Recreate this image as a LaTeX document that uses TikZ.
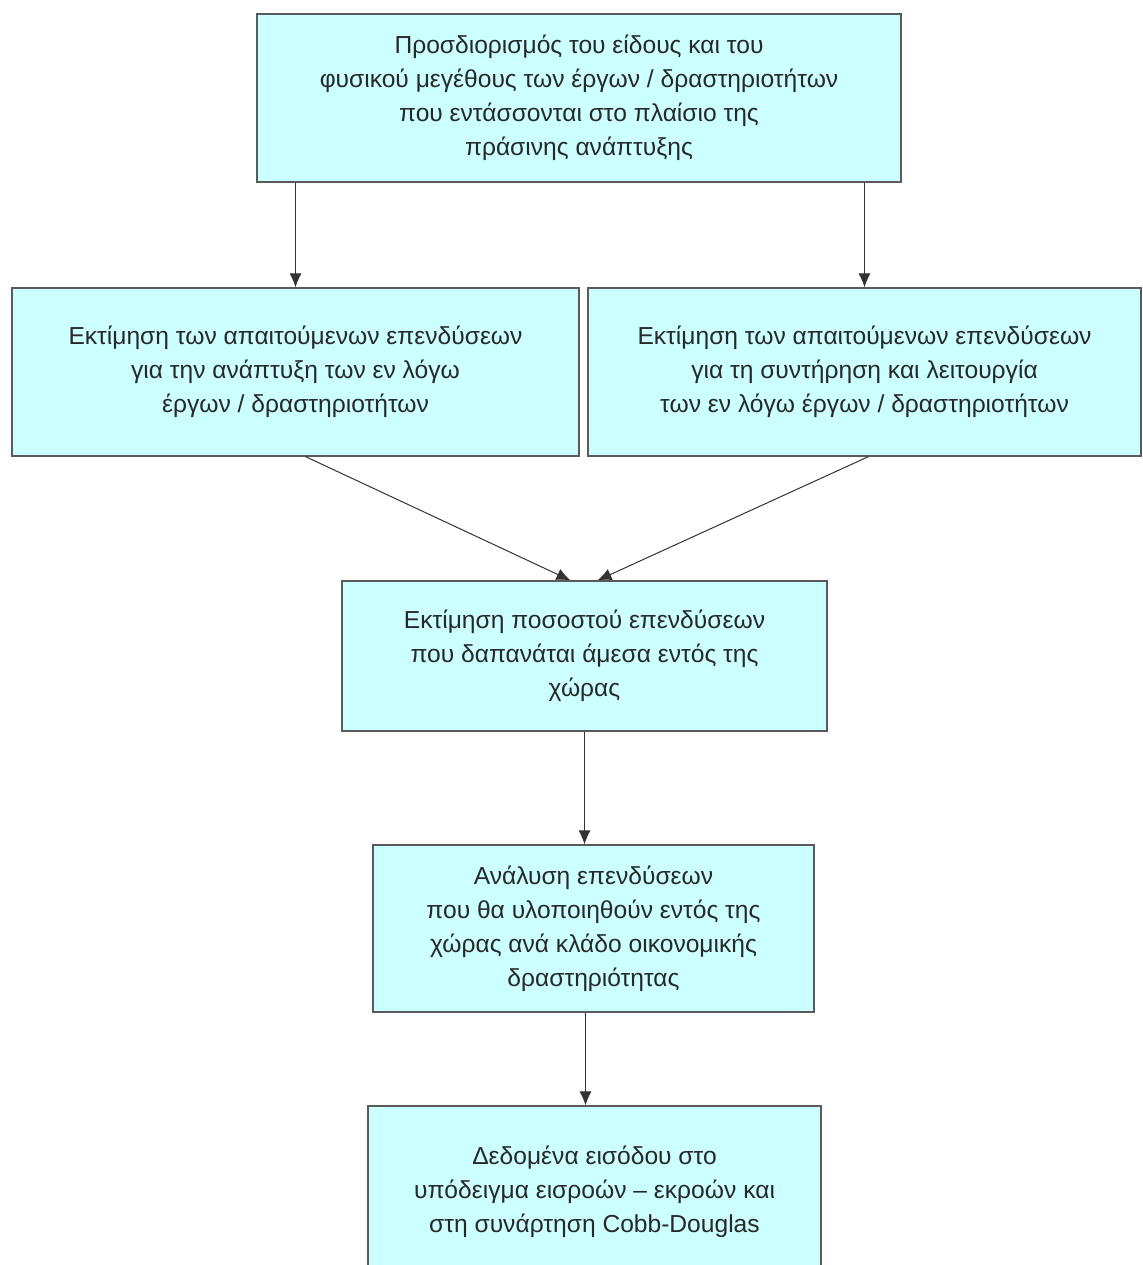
\documentclass[tikz,border=0pt]{standalone}
\usepackage{fontspec}
\setmainfont{Liberation Sans}
\usepackage{tikz}
\usetikzlibrary{calc,arrows.meta}

\definecolor{boxfill}{RGB}{204,255,255}
\definecolor{boxline}{RGB}{90,90,90}
\definecolor{inktext}{RGB}{40,40,40}

\tikzset{
    stage/.style={draw=boxline, line width=1.2pt, fill=boxfill, align=center,
        inner sep=0pt, text=inktext, font=\fontsize{24.6}{34}\selectfont},
    flow/.style={-{Latex[length=14pt,width=12pt]}, line width=1pt, color=black!80}
}

\begin{document}
\begin{tikzpicture}[x=1pt,y=1pt]
        \useasboundingbox (0,0) rectangle (1142,-1265);
        \node[stage, minimum width=644, minimum height=168] (ergo) at (579,-98)
            {Προσδιορισμός του είδους και του\\
             φυσικού μεγέθους των έργων / δραστηριοτήτων\\
             που εντάσσονται στο πλαίσιο της\\
             πράσινης ανάπτυξης};
        \node[stage, minimum width=567, minimum height=168] (anapt) at (295.5,-372)
            {Εκτίμηση των απαιτούμενων επενδύσεων\\
             για την ανάπτυξη των εν λόγω\\
             έργων / δραστηριοτήτων};
        \node[stage, minimum width=553, minimum height=168] (leit) at (864.5,-372)
            {Εκτίμηση των απαιτούμενων επενδύσεων\\
             για τη συντήρηση και λειτουργία\\
             των εν λόγω έργων / δραστηριοτήτων};
        \node[stage, minimum width=485, minimum height=150] (pososto) at (584.5,-656)
            {Εκτίμηση ποσοστού επενδύσεων\\
             που δαπανάται άμεσα εντός της\\
             χώρας};
        \node[stage, minimum width=441, minimum height=167] (klados) at (593.5,-928.5)
            {Ανάλυση επενδύσεων\\
             που θα υλοποιηθούν εντός της\\
             χώρας ανά κλάδο οικονομικής\\
             δραστηριότητας};
        \node[stage, minimum width=453, minimum height=172] (input) at (594.5,-1192)
            {Δεδομένα εισόδου στο\\
             υπόδειγμα εισροών -- εκροών και\\
             στη συνάρτηση Cobb-Douglas};

        \draw[flow] (ergo.south -| anapt.north) -- (anapt.north);
        \draw[flow] (ergo.south -| leit.north) -- (leit.north);
        \draw[flow] ($(anapt.south)+(10,0)$) -- ($(pososto.north)+(-14,0)$);
        \draw[flow] ($(leit.south)+(4,0)$) -- ($(pososto.north)+(13,0)$);
        \draw[flow] (pososto.south) -- (pososto.south |- klados.north);
        \coordinate (kout) at ($(klados.south)+(-8,0)$);
        \draw[flow] (kout) -- (kout |- input.north);
    \end{tikzpicture}
\end{document}
